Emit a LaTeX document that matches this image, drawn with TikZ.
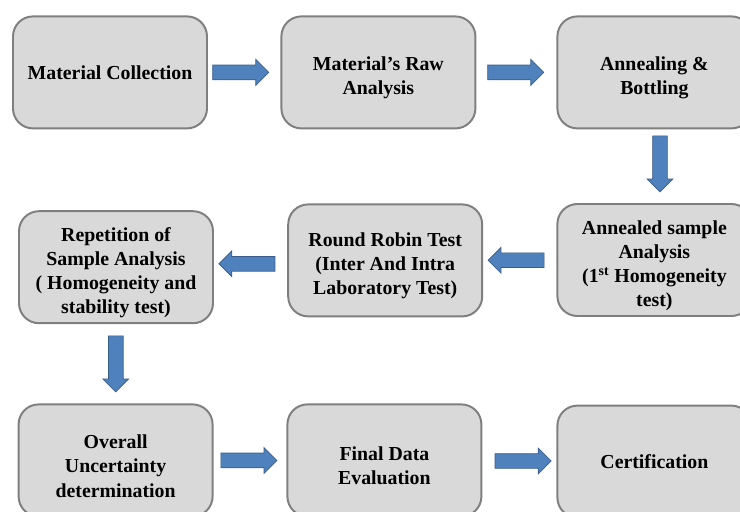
\documentclass[tikz,border=0pt]{standalone}
\usepackage{fontspec}
\setmainfont{Liberation Serif}
\usepackage{tikz}
\usetikzlibrary{calc}
\usetikzlibrary{shapes.arrows}

\definecolor{boxfill}{HTML}{D9D9D9}
\definecolor{boxline}{HTML}{7F7F7F}
\definecolor{arrowfill}{HTML}{4F81BD}
\definecolor{arrowline}{HTML}{385D8A}

\newcommand{\topgap}{\rule{0pt}{18pt}}

\tikzset{
    stepbox/.style={draw=boxline, fill=boxfill, line width=1.4pt, rounded corners=0.5cm,
        minimum width=4.85cm, minimum height=2.8cm, align=center, inner sep=0pt,
        font=\bfseries\fontsize{14.1}{17.1}\selectfont},
    blockarrow/.style={single arrow, draw=arrowline, fill=arrowfill, line width=0.5pt,
        inner sep=0.175cm, minimum height=1.4cm,
        single arrow head extend=0.1375cm, single arrow head indent=0pt}
}

\begin{document}
\begin{tikzpicture}
    \useasboundingbox (0,0) rectangle (18.5,-12.775);
    \clip (0,0) rectangle (18.5,-12.775);
    % first row
    \node[stepbox] (mc) at (2.75,-1.81) {Material Collection};
    \node[stepbox] (raw) at (9.46,-1.81) {\topgap Material’s Raw\\Analysis};
    \node[stepbox] (anneal) at (16.36,-1.81) {\topgap Annealing \&\\Bottling};
    % second row
    \node[stepbox] (asa) at (16.36,-6.5) {\topgap Annealed sample\\Analysis\\(1\textsuperscript{st} Homogeneity\\test)};
    \node[stepbox] (rrt) at (9.63,-6.51) {\topgap Round Robin Test\\(Inter And Intra\\Laboratory Test)};
    \node[stepbox] (rep) at (2.9,-6.68) {\topgap Repetition of\\Sample Analysis\\( Homogeneity and\\stability test)};
    % third row
    \node[stepbox] (unc) at (2.89,-11.51) {\topgap Overall\\Uncertainty\\determination};
    \node[stepbox] (fde) at (9.61,-11.51) {\topgap Final Data\\Evaluation};
    \node[stepbox] (cert) at (16.36,-11.54) {Certification};
    % arrows
    \node[blockarrow] (a1) at ($(mc.east)!0.5!(raw.west)+(-0.18,0)$) {};
    \node[blockarrow] (a2) at ($(raw.east)!0.5!(anneal.west)+(-0.11,0)$) {};
    \node[blockarrow, shape border rotate=270] (a3) at ($(anneal.south)!0.5!(asa.north)+(0.14,0.15)$) {};
    \node[blockarrow, shape border rotate=180] (a4) at ($(asa.west)!0.5!(rrt.east)$) {};
    \node[blockarrow, shape border rotate=180] (a5) at ($(rrt.west)!0.5!(rep.east)$) {};
    \node[blockarrow, shape border rotate=270] (a6) at ($(rep.south)!0.5!(unc.north)+(0,0.09)$) {};
    \node[blockarrow] (a7) at ($(unc.east)!0.5!(fde.west)+(-0.12,0)$) {};
    \node[blockarrow] (a8) at ($(fde.east)!0.5!(cert.west)$) {};
\end{tikzpicture}
\end{document}
